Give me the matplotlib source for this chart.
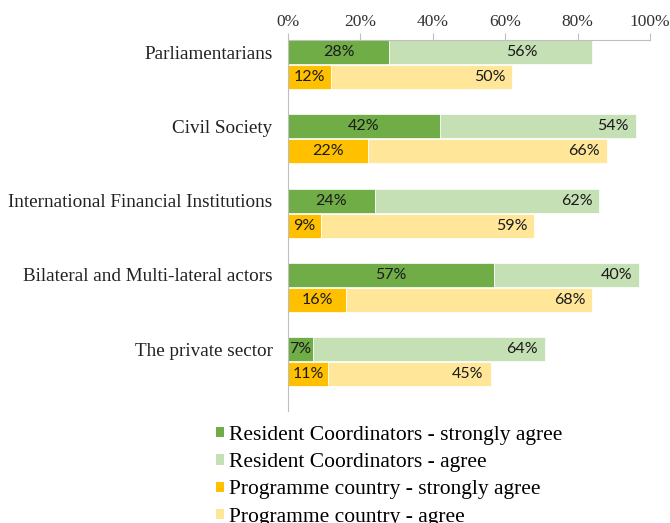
import numpy as np
import matplotlib.pyplot as plt
from matplotlib.patches import Patch

categories = ["Parliamentarians", "Civil Society", "International Financial Institutions",
              "Bilateral and Multi-lateral actors", "The private sector"]
rc_strong = [28, 42, 24, 57, 7]
rc_agree = [56, 54, 62, 40, 64]
pc_strong = [12, 22, 9, 16, 11]
pc_agree = [50, 66, 59, 68, 45]
series_names = ["Resident Coordinators - strongly agree", "Resident Coordinators - agree",
                "Programme country - strongly agree", "Programme country - agree"]
x_ticks = [0, 20, 40, 60, 80, 100]

colors = ["#70AD47", "#C5E0B4", "#FFC000", "#FFE699"]
serif = ["Liberation Serif", "DejaVu Serif"]
sans = ["Lato", "DejaVu Sans"]

fig = plt.figure(figsize=(6.7, 5.23), dpi=100)
ax = fig.add_axes([288/670, 1 - 411/523, 362/670, 371/523])

y = np.arange(len(categories))
h = 24/74.25
off = 25/74.25

def draw_pair(ypos, strong, agree, c1, c2, special=None):
    ax.barh(ypos, strong, height=h, color=c1, edgecolor="white", linewidth=0.5)
    ax.barh(ypos, agree, left=strong, height=h, color=c2, edgecolor="white", linewidth=0.5)
    for i, (s, a) in enumerate(zip(strong, agree)):
        ax.text(s/2, ypos[i], f"{s}%", ha="center", va="center", fontsize=11.5, family=sans, color="#1a1a1a")
        if special is not None and i in special:
            ax.text(s + a*special[i], ypos[i], f"{a}%", ha="center", va="center",
                    fontsize=11.5, family=sans, color="#1a1a1a")
        else:
            ax.annotate(f"{a}%", (s + a, ypos[i]), xytext=(-5, 0), textcoords="offset points",
                        ha="right", va="center", fontsize=11.5, family=sans, color="#1a1a1a")

draw_pair(y, rc_strong, rc_agree, colors[0], colors[1], special={0: 0.655})
draw_pair(y + off, pc_strong, pc_agree, colors[2], colors[3])

ax.set_xlim(0, 100)
ax.set_ylim(len(categories) - 1 + off + 37/74.25, -h/2)
ax.set_yticks(y)
ax.set_yticklabels(categories, family=serif, fontsize=13.8, color="#222222")
ax.tick_params(axis="y", length=0, pad=11)
ax.xaxis.tick_top()
ax.set_xticks(x_ticks)
ax.set_xticklabels([f"{t}%" for t in x_ticks], family=serif, fontsize=12.5, color="#333333")
ax.tick_params(axis="x", length=5, color="#BFBFBF", pad=2)
for side in ["right", "bottom"]:
    ax.spines[side].set_visible(False)
for side in ["top", "left"]:
    ax.spines[side].set_color("#BFBFBF")

handles = [Patch(facecolor=c, edgecolor="none") for c in colors]
fig.legend(handles, series_names, loc="upper left", bbox_to_anchor=(216/670, 1 - 426/523),
           frameon=False, prop={"family": serif, "size": 15.5}, handlelength=0.35, handleheight=0.35,
           handletextpad=0.25, labelspacing=0.38, borderaxespad=0, borderpad=0)

fig.savefig("out.png", dpi=100)
